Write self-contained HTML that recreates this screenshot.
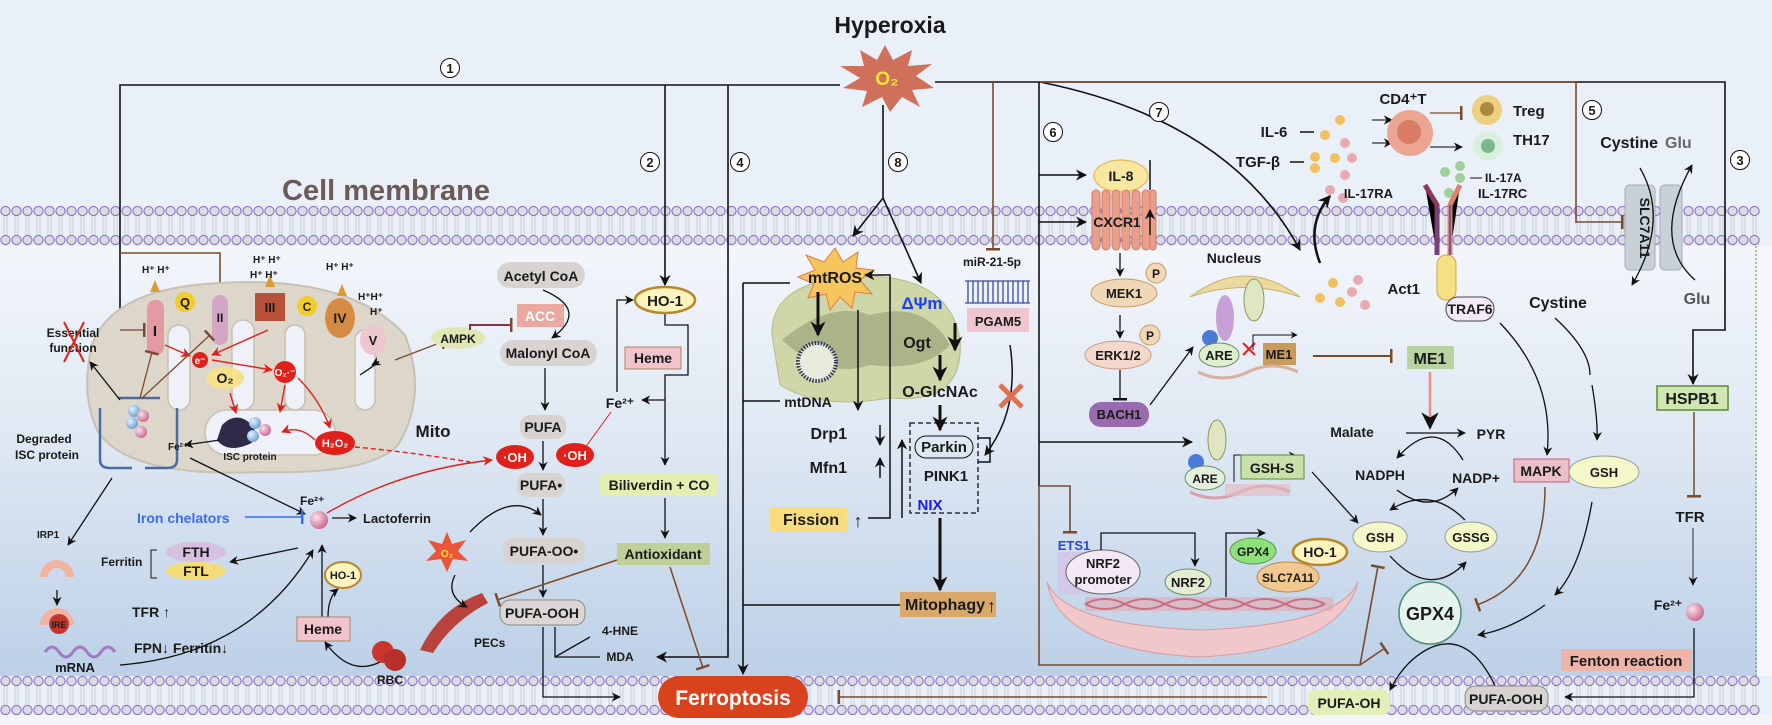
<!DOCTYPE html>
<html><head><meta charset="utf-8"><style>
html,body{margin:0;padding:0;background:#fff}
svg{display:block}
text{font-family:"Liberation Sans",Arial,sans-serif;font-weight:bold;fill:#1a1a1a}
</style></head><body>
<svg width="1772" height="725" viewBox="0 0 1772 725" xmlns="http://www.w3.org/2000/svg">
<defs>
<linearGradient id="bgIn" x1="0" y1="0" x2="0" y2="1"><stop offset="0" stop-color="#f3f6fb"/><stop offset="0.45" stop-color="#dfe8f3"/><stop offset="1" stop-color="#bcd0e7"/></linearGradient>
<pattern id="memT" patternUnits="userSpaceOnUse" width="11" height="41" patternTransform="translate(0,205)">
<line x1="4" y1="10" x2="4" y2="31" stroke="#c9ccd3"/><line x1="7" y1="10" x2="7" y2="31" stroke="#c9ccd3"/>
<circle cx="5.5" cy="6" r="4.6" fill="#dcdce0" stroke="#8b6fd0" stroke-width="1.1"/>
<circle cx="5.5" cy="35" r="4.6" fill="#dcdce0" stroke="#8b6fd0" stroke-width="1.1"/></pattern>
<pattern id="memB" patternUnits="userSpaceOnUse" width="11" height="40" patternTransform="translate(0,675)">
<line x1="4" y1="10" x2="4" y2="30" stroke="#c9ccd3"/><line x1="7" y1="10" x2="7" y2="30" stroke="#c9ccd3"/>
<circle cx="5.5" cy="6" r="4.6" fill="#dcdce0" stroke="#8b6fd0" stroke-width="1.1"/>
<circle cx="5.5" cy="35" r="4.6" fill="#dcdce0" stroke="#8b6fd0" stroke-width="1.1"/></pattern>
<marker id="a" viewBox="0 0 10 10" refX="9" refY="5" markerWidth="7" markerHeight="7" orient="auto"><path d="M0,0 L10,5 L0,10 L3,5z" fill="#111"/></marker>
<marker id="ar" viewBox="0 0 10 10" refX="9" refY="5" markerWidth="7" markerHeight="7" orient="auto"><path d="M0,0 L10,5 L0,10 L3,5z" fill="#e0201a"/></marker>
<marker id="ab" viewBox="0 0 10 10" refX="9" refY="5" markerWidth="5" markerHeight="5" orient="auto"><path d="M0,0 L10,5 L0,10 L3,5z" fill="#111"/></marker>
<marker id="tb" viewBox="0 0 4 14" refX="2" refY="7" markerWidth="4" markerHeight="14" markerUnits="userSpaceOnUse" orient="auto"><rect x="0" y="0" width="2.5" height="14" fill="#7a4a2a"/></marker>
<marker id="tk" viewBox="0 0 4 14" refX="2" refY="7" markerWidth="4" markerHeight="14" markerUnits="userSpaceOnUse" orient="auto"><rect x="0" y="0" width="2.5" height="14" fill="#111"/></marker>
<marker id="tblue" viewBox="0 0 4 14" refX="2" refY="7" markerWidth="4" markerHeight="14" markerUnits="userSpaceOnUse" orient="auto"><rect x="0" y="0" width="2.5" height="14" fill="#3a6cf0"/></marker>
<radialGradient id="ball" cx="0.35" cy="0.35" r="0.7"><stop offset="0" stop-color="#fbe0ee"/><stop offset="1" stop-color="#c9668f"/></radialGradient>
<radialGradient id="bball" cx="0.35" cy="0.35" r="0.7"><stop offset="0" stop-color="#e3f2ff"/><stop offset="1" stop-color="#6a9ed0"/></radialGradient>
</defs>

<rect x="0" y="0" width="1772" height="725" fill="#eaf0f8"/>
<rect x="0" y="246" width="1757" height="430" fill="url(#bgIn)"/>
<rect x="1757" y="246" width="15" height="430" fill="#f4f6f9"/>
<rect x="0" y="715" width="1772" height="10" fill="#f3f5f8"/>
<rect x="0" y="205" width="1760" height="41" fill="url(#memT)"/>
<rect x="0" y="675" width="1760" height="40" fill="url(#memB)"/>
<line x1="1756" y1="246" x2="1756" y2="676" stroke="#6b8e4e" stroke-dasharray="2,2"/>

<text x="890" y="33" font-size="23" text-anchor="middle">Hyperoxia</text>
<text x="386" y="200" font-size="29" style="fill:#6b5a57" text-anchor="middle">Cell membrane</text>

<polygon points="885,45 893,60 912,50 908,66 932,64 916,76 934,88 912,90 920,107 902,97 890,112 882,97 862,107 867,91 843,88 860,78 840,66 864,66 860,50 877,60" fill="#cf705a"/>
<text x="887" y="85" font-size="19" style="fill:#f5e23a" text-anchor="middle">O₂</text>

<g fill="none" stroke="#111" stroke-width="1.6">
<path d="M840,85 H120 V378 H205" marker-end="url(#a)"/>
<path d="M665,85 V285" marker-end="url(#a)"/>
<path d="M728,85 V657 H657" marker-end="url(#a)"/>
<path d="M883,105 V198 L853,236" marker-end="url(#a)"/>
<path d="M883,198 L921,283" marker-end="url(#a)"/>
<path d="M935,82 H1725 V330 H1693 V384" marker-end="url(#a)"/>
<path d="M1039,82 V486"/>
<path d="M1039,175 H1086" marker-end="url(#a)"/>
<path d="M1039,222 H1086" marker-end="url(#a)"/>
<path d="M1039,442 H1192" marker-end="url(#a)"/>
<path d="M1040,82 Q1230,120 1300,250" marker-end="url(#a)"/>
<path d="M743,283 V674" marker-end="url(#a)"/>
<path d="M743,283 H790"/>
<path d="M743,401 H780"/>
<path d="M743,605 H900"/>
</g>
<g fill="none" stroke="#7a4a2a" stroke-width="1.6">
<path d="M993,82 V250" marker-end="url(#tb)"/>
<path d="M1040,82 H1576 V222 H1623" marker-end="url(#tb)"/>
<path d="M120,253 H220 V288" marker-end="url(#tb)"/>
<path d="M1039,486 H1070 V533" marker-end="url(#tb)"/>
<path d="M1039,486 V665 H1360 L1385,648" marker-end="url(#tb)"/>
<path d="M1360,665 L1378,566" marker-end="url(#tb)"/>
<path d="M1267,697 H838" marker-end="url(#tb)"/>
</g>
<g>
<circle cx="450" cy="68" r="9.5" fill="#fff" stroke="#111"/><text x="450" y="73" text-anchor="middle" font-size="13" font-weight="normal">1</text>
<circle cx="650" cy="162" r="9.5" fill="#fff" stroke="#111"/><text x="650" y="167" text-anchor="middle" font-size="13" font-weight="normal">2</text>
<circle cx="740" cy="162" r="9.5" fill="#fff" stroke="#111"/><text x="740" y="167" text-anchor="middle" font-size="13" font-weight="normal">4</text>
<circle cx="898" cy="162" r="9.5" fill="#fff" stroke="#111"/><text x="898" y="167" text-anchor="middle" font-size="13" font-weight="normal">8</text>
<circle cx="1053" cy="132" r="9.5" fill="#fff" stroke="#111"/><text x="1053" y="137" text-anchor="middle" font-size="13" font-weight="normal">6</text>
<circle cx="1159" cy="112" r="9.5" fill="#fff" stroke="#111"/><text x="1159" y="117" text-anchor="middle" font-size="13" font-weight="normal">7</text>
<circle cx="1592" cy="110" r="9.5" fill="#fff" stroke="#111"/><text x="1592" y="115" text-anchor="middle" font-size="13" font-weight="normal">5</text>
<circle cx="1740" cy="160" r="9.5" fill="#fff" stroke="#111"/><text x="1740" y="165" text-anchor="middle" font-size="13" font-weight="normal">3</text>
</g>

<path d="M92,345 Q112,288 220,283 Q350,275 405,335 Q428,395 398,445 Q370,475 260,472 Q130,478 98,432 Q80,395 92,345z" fill="#ddd6cb" stroke="#c8c0b3" stroke-width="2"/>
<g fill="#eef2f8" stroke="#c8c0b3" stroke-width="1.5">
<rect x="168" y="325" width="22" height="85" rx="11"/><rect x="232" y="320" width="22" height="90" rx="11"/>
<rect x="285" y="325" width="20" height="85" rx="10"/><rect x="355" y="330" width="20" height="80" rx="10"/>
<rect x="205" y="410" width="130" height="45" rx="22"/>
</g>
<rect x="147" y="300" width="17" height="55" rx="8" fill="#e39aa2"/><text x="155" y="336" font-size="15" text-anchor="middle">I</text>
<circle cx="185" cy="302" r="10" fill="#f2cc28"/><text x="185" y="307" font-size="13" text-anchor="middle">Q</text>
<rect x="212" y="295" width="16" height="50" rx="8" fill="#d3a6c6"/><text x="220" y="322" font-size="12" text-anchor="middle">II</text>
<path d="M255,293 h30 v28 h-30z" fill="#b8533a"/><text x="270" y="312" font-size="13" text-anchor="middle">III</text>
<circle cx="307" cy="306" r="10" fill="#f2cc28"/><text x="307" y="311" font-size="12" text-anchor="middle">C</text>
<ellipse cx="340" cy="318" rx="15" ry="20" fill="#d68b45"/><text x="340" y="323" font-size="14" text-anchor="middle">IV</text>
<ellipse cx="373" cy="340" rx="13" ry="15" fill="#eec6cf"/><text x="373" y="345" font-size="13" text-anchor="middle">V</text>
<g fill="#e09a35"><path d="M150,292 l5,-12 l5,12z"/><path d="M265,287 l5,-12 l5,12z"/><path d="M337,296 l5,-12 l5,12z"/></g>
<g font-size="10"><text x="142" y="273">H⁺ H⁺</text><text x="253" y="263">H⁺ H⁺</text><text x="250" y="278">H⁺    H⁺</text><text x="326" y="270">H⁺  H⁺</text><text x="358" y="300">H⁺H⁺</text><text x="370" y="315">H⁺</text></g>
<circle cx="200" cy="360" r="8" fill="#e0201a"/><text x="200" y="364" font-size="10" style="fill:#fff" text-anchor="middle">e⁻</text>
<ellipse cx="225" cy="378" rx="19" ry="11" fill="#f5e08c"/><text x="225" y="383" font-size="14" text-anchor="middle">O₂</text>
<circle cx="285" cy="372" r="11" fill="#e0201a"/><text x="285" y="376" font-size="10" style="fill:#fff" text-anchor="middle">O₂·⁻</text>
<ellipse cx="335" cy="443" rx="20" ry="12" fill="#e0201a"/><text x="335" y="447" font-size="11" style="fill:#fff" text-anchor="middle">H₂O₂</text>
<g fill="none" stroke="#e0201a" stroke-width="1.4"><path d="M165,345 L190,356" marker-end="url(#ar)"/><path d="M268,330 L212,355" marker-end="url(#ar)"/><path d="M212,360 L272,370" marker-end="url(#ar)"/><path d="M298,378 Q320,400 330,428" marker-end="url(#ar)"/><path d="M230,393 L236,413" marker-end="url(#ar)"/><path d="M285,385 L280,412" marker-end="url(#ar)"/><path d="M315,440 Q300,425 282,432" marker-end="url(#ar)"/><path d="M355,447 Q410,452 470,462" stroke-dasharray="5,3"/></g>
<path d="M222,425 q15,-15 30,0 q10,15 -5,20 q-20,8 -30,-5z" fill="#2e2a48"/>
<circle cx="255" cy="423" r="6" fill="url(#bball)"/><circle cx="265" cy="430" r="6" fill="url(#ball)"/><circle cx="253" cy="436" r="6" fill="url(#bball)"/>
<text x="250" y="460" font-size="10" font-weight="normal" text-anchor="middle">ISC protein</text>
<text x="433" y="437" font-size="17" text-anchor="middle">Mito</text>
<path d="M118,398 H160 M100,408 v52 q0,8 10,8 h22 M177,408 v52 q0,8 -10,8 h-22" fill="none" stroke="#4a6aa0" stroke-width="2.5"/>
<circle cx="134" cy="411" r="6" fill="url(#bball)"/><circle cx="143" cy="416" r="6" fill="url(#ball)"/><circle cx="132" cy="423" r="6" fill="url(#bball)"/><circle cx="141" cy="432" r="6" fill="url(#ball)"/>
<text x="73" y="337" font-size="12" text-anchor="middle">Essential</text><text x="73" y="352" font-size="12" text-anchor="middle">function</text>
<path d="M64,322 L84,362 M84,322 L64,362" stroke="#e0201a" stroke-width="2"/>
<text x="44" y="443" font-size="12" text-anchor="middle">Degraded</text><text x="47" y="459" font-size="12" text-anchor="middle">ISC protein</text>
<text x="168" y="450" font-size="10">Fe²⁺</text>
<g fill="none" stroke="#111" stroke-width="1.3">
<path d="M120,400 L90,362" marker-end="url(#a)"/>
<path d="M220,440 L185,445" marker-end="url(#a)"/>
<path d="M112,478 L68,545" marker-end="url(#a)"/>
<path d="M190,458 L305,514" marker-end="url(#a)"/>
<path d="M332,518 H356" marker-end="url(#a)"/>
<path d="M298,548 L230,562" marker-end="url(#a)"/>
<path d="M120,665 Q250,655 313,550" marker-end="url(#a)"/>
<path d="M322,617 V545" marker-end="url(#a)"/>
<path d="M328,617 q0,-20 10,-28" marker-end="url(#a)"/>
<path d="M380,662 q-30,15 -55,-20" marker-end="url(#a)"/>
<path d="M57,590 V605" marker-end="url(#a)"/>
<path d="M360,375 Q390,355 372,365" marker-end="url(#a)"/>
</g>
<g fill="none" stroke="#7a4a2a" stroke-width="1.3"><path d="M120,330 H145" marker-end="url(#tb)"/><path d="M140,398 L152,352" marker-end="url(#tb)"/><path d="M142,398 L210,335" marker-end="url(#tb)"/><path d="M395,360 L442,342" marker-end="url(#tb)"/></g>
<text x="37" y="538" font-size="10">IRP1</text>
<path d="M40,577 a17,17 0 0 1 34,0 h-8 a9,9 0 0 0 -18,0z" fill="#f2b3a3"/>
<path d="M40,625 a17,17 0 0 1 34,0 h-8 a9,9 0 0 0 -18,0z" fill="#f2b3a3"/>
<circle cx="59" cy="624" r="10" fill="#c0392b"/><text x="59" y="628" font-size="9" text-anchor="middle">IRE</text>
<path d="M45,652 q7,-10 14,0 t14,0 t14,0 t14,0 t14,0" fill="none" stroke="#a07ac0" stroke-width="3"/>
<text x="75" y="672" font-size="13" text-anchor="middle">mRNA</text>
<text x="101" y="566" font-size="12">Ferritin</text>
<path d="M157,550 h-6 v28 h6" fill="none" stroke="#111"/>
<ellipse cx="196" cy="552" rx="30" ry="10" fill="#d7bfe0"/><text x="196" y="557" font-size="14" font-weight="normal" text-anchor="middle">FTH</text>
<ellipse cx="196" cy="571" rx="30" ry="9" fill="#f4dd78"/><text x="196" y="576" font-size="14" font-weight="normal" text-anchor="middle">FTL</text>
<text x="132" y="617" font-size="14">TFR ↑</text>
<text x="134" y="653" font-size="14">FPN↓  Ferritin↓</text>
<text x="137" y="523" font-size="14" style="fill:#3a6cf0">Iron  chelators</text>
<path d="M245,517 H303" stroke="#3a6cf0" stroke-width="1.5" marker-end="url(#tblue)"/>
<text x="300" y="505" font-size="12">Fe²⁺</text>
<circle cx="319" cy="520" r="9" fill="url(#ball)"/>
<text x="363" y="523" font-size="13" font-weight="normal">Lactoferrin</text>
<path d="M327,513 Q400,470 492,460" fill="none" stroke="#e0201a" stroke-width="1.4" marker-end="url(#ar)"/>
<ellipse cx="343" cy="575" rx="18" ry="13" fill="#fff3c0" stroke="#b8862b" stroke-width="2"/><text x="343" y="579" font-size="11" font-weight="normal" text-anchor="middle">HO-1</text>
<rect x="297" y="617" width="53" height="24" fill="#f2c3cd" stroke="#a85"/><text x="323" y="634" font-size="14" text-anchor="middle">Heme</text>
<circle cx="383" cy="652" r="11" fill="#c9362d"/><circle cx="395" cy="660" r="11" fill="#b8302a"/>
<text x="390" y="684" font-size="12" text-anchor="middle">RBC</text>
<path d="M420,650 q20,-42 62,-57 l6,10 q-35,18 -55,50z" fill="#b8423c"/>
<text x="474" y="647" font-size="12">PECs</text>
<polygon points="447,532 452,544 466,540 458,551 468,561 453,559 447,572 441,559 426,561 436,551 428,540 442,544" fill="#e9563a"/><text x="447" y="557" font-size="10" style="fill:#f5e23a" text-anchor="middle">O₂</text>

<g font-size="14" font-weight="normal" text-anchor="middle">
<rect x="497" y="262" width="88" height="26" rx="13" fill="#d6d3d0"/><text x="541" y="281">Acetyl CoA</text>
<rect x="517" y="304" width="47" height="23" fill="#eaa8a0"/><text x="540" y="321" style="fill:#fff" font-weight="bold">ACC</text>
<ellipse cx="458" cy="338" rx="27" ry="11" fill="#dfe8b4"/><text x="458" y="343" font-size="12" font-weight="bold">AMPK</text>
<rect x="500" y="340" width="97" height="26" rx="13" fill="#d6d3d0"/><text x="548" y="358">Malonyl CoA</text>
<rect x="520" y="415" width="46" height="24" rx="10" fill="#d6d3d0"/><text x="543" y="432">PUFA</text>
<rect x="517" y="473" width="48" height="24" rx="10" fill="#d6d3d0"/><text x="541" y="490">PUFA•</text>
<rect x="503" y="538" width="82" height="25" rx="10" fill="#d6d3d0"/><text x="544" y="556">PUFA-OO•</text>
<rect x="500" y="600" width="85" height="25" rx="10" fill="#d9d6d3" stroke="#888"/><text x="542" y="618" font-weight="bold">PUFA-OOH</text>
<text x="620" y="635" font-size="12" font-weight="bold">4-HNE</text><text x="620" y="661" font-size="12" font-weight="bold">MDA</text>
</g>
<ellipse cx="515" cy="457" rx="19" ry="12" fill="#e0201a"/><text x="515" y="462" font-size="13" style="fill:#fff" text-anchor="middle">·OH</text>
<ellipse cx="575" cy="455" rx="19" ry="12" fill="#e0201a"/><text x="575" y="460" font-size="13" style="fill:#fff" text-anchor="middle">·OH</text>
<g fill="none" stroke="#111" stroke-width="1.3">
<path d="M543,290 Q590,310 552,338" marker-end="url(#a)"/>
<path d="M545,368 V410" marker-end="url(#a)"/>
<path d="M543,441 V470" marker-end="url(#a)"/>
<path d="M543,499 V535" marker-end="url(#a)"/>
<path d="M543,565 V597" marker-end="url(#a)"/>
<path d="M470,532 Q510,490 541,515" marker-end="url(#a)"/>
<path d="M455,575 q-10,20 12,32" marker-end="url(#a)"/>
<path d="M543,627 V697 H620" marker-end="url(#a)"/>
<path d="M555,627 V657 H600 M555,657 L590,637"/>
<path d="M665,313 V325 H688 V375 H665 V465" marker-end="url(#a)"/>
<path d="M665,400 H642" marker-end="url(#a)"/>
<path d="M617,392 V300 H633" marker-end="url(#a)"/>
<path d="M665,498 V538" marker-end="url(#a)"/>
</g>
<path d="M470,330 V325 H512" stroke="#8a3040" stroke-width="2" fill="none" marker-end="url(#tb)"/>
<path d="M611,412 L582,452" stroke="#e0201a" fill="none" marker-end="url(#ar)"/>
<ellipse cx="665" cy="300" rx="30" ry="13" fill="#fff3c0" stroke="#b8862b" stroke-width="2.5"/><text x="665" y="306" font-size="15" text-anchor="middle">HO-1</text>
<rect x="625" y="347" width="56" height="22" fill="#f2c3cd" stroke="#a85"/><text x="653" y="363" font-size="14" font-weight="normal" text-anchor="middle">Heme</text>
<text x="620" y="408" font-size="14" text-anchor="middle">Fe²⁺</text>
<rect x="600" y="474" width="118" height="22" rx="4" fill="#e3efb0"/><text x="659" y="490" font-size="14" text-anchor="middle">Biliverdin + CO</text>
<rect x="617" y="543" width="93" height="22" fill="#bfcf9a"/><text x="663" y="559" font-size="14" font-weight="normal" text-anchor="middle">Antioxidant</text>
<path d="M670,567 L703,668" stroke="#7a4a2a" fill="none" stroke-width="1.5" marker-end="url(#tb)"/>
<path d="M617,560 L497,600" stroke="#7a4a2a" fill="none" stroke-width="1.5" marker-end="url(#tb)"/>

<rect x="658" y="676" width="150" height="42" rx="21" fill="#d8421c"/>
<text x="733" y="705" font-size="21" style="fill:#fff" text-anchor="middle">Ferroptosis</text>

<path d="M772,335 Q770,280 860,276 Q950,275 960,340 Q965,405 890,398 Q820,410 780,385z" fill="#cfd6a7" stroke="#b5bd8a"/>
<path d="M782,340 Q830,300 870,315 Q925,300 950,345 Q925,372 870,365 Q825,380 782,340z" fill="#9aa57a" opacity="0.7"/>
<circle cx="817" cy="362" r="19" fill="#e8ecdc" stroke="#2f355a" stroke-width="4" stroke-dasharray="1.5,1.5"/>
<polygon points="835,248 843,262 858,252 856,268 874,270 860,280 872,294 855,292 852,308 840,297 830,310 826,294 808,298 814,284 798,277 815,270 806,255 824,262" fill="#f6c55c" stroke="#e07a4a"/>
<text x="835" y="283" font-size="16" text-anchor="middle">mtROS</text>
<text x="808" y="407" font-size="14" text-anchor="middle">mtDNA</text>
<g fill="none" stroke="#111" stroke-width="1.5">
<path d="M818,292 V335" stroke-width="3" marker-end="url(#ab)"/>
<path d="M858,310 V410" marker-end="url(#a)"/>
<path d="M880,425 V445" marker-end="url(#a)"/>
<path d="M880,478 V458" marker-end="url(#a)"/>
<path d="M868,518 H890 V275 H865" marker-end="url(#a)"/>
<path d="M955,323 V350" stroke-width="3" marker-end="url(#ab)"/>
<path d="M940,355 V380" stroke-width="3" marker-end="url(#ab)"/>
<path d="M940,405 V430" stroke-width="3" marker-end="url(#ab)"/>
<path d="M1010,345 Q1020,410 985,455" marker-end="url(#a)"/>
<path d="M978,438 H990 V462 H978"/>
<path d="M902,518 V440" marker-end="url(#a)"/>
<path d="M940,518 V590" stroke-width="3" marker-end="url(#ab)"/>
</g>
<text x="847" y="439" font-size="16" text-anchor="end">Drp1</text>
<text x="847" y="473" font-size="16" text-anchor="end">Mfn1</text>
<rect x="770" y="507" width="77" height="25" fill="#f7dd7e"/><text x="783" y="525" font-size="16">Fission</text><text x="858" y="527" font-size="18" text-anchor="middle">↑</text>
<text x="922" y="309" font-size="17" style="fill:#1a3ef0" text-anchor="middle">ΔΨm</text>
<text x="917" y="348" font-size="16" text-anchor="middle">Ogt</text>
<text x="940" y="397" font-size="16" text-anchor="middle">O-GlcNAc</text>
<path d="M1000,385 l22,22 M1022,385 l-22,22" stroke="#e07050" stroke-width="5"/>
<rect x="910" y="423" width="68" height="90" fill="none" stroke="#111" stroke-dasharray="5,3" stroke-width="1.3"/>
<rect x="915" y="436" width="58" height="22" rx="11" fill="none" stroke="#111"/><text x="944" y="452" font-size="15" font-weight="normal" text-anchor="middle">Parkin</text>
<text x="946" y="481" font-size="15" text-anchor="middle">PINK1</text>
<text x="930" y="510" font-size="15" style="fill:#1a1af0" text-anchor="middle">NIX</text>
<rect x="900" y="592" width="96" height="25" fill="#d9a76a"/><text x="945" y="610" font-size="16" text-anchor="middle">Mitophagy</text><text x="987" y="612" font-size="18">↑</text>
<text x="992" y="266" font-size="12" text-anchor="middle">miR-21-5p</text>
<g stroke="#3a4aa0" stroke-width="1.3"><line x1="965" y1="281" x2="1030" y2="281"/><line x1="965" y1="303" x2="1030" y2="303"/><path d="M968,281 v22 M973,281 v22 M978,281 v22 M983,281 v22 M988,281 v22 M993,281 v22 M998,281 v22 M1003,281 v22 M1008,281 v22 M1013,281 v22 M1018,281 v22 M1023,281 v22 M1028,281 v22"/></g>
<rect x="967" y="308" width="62" height="24" fill="#efc6cf"/><text x="998" y="326" font-size="13" text-anchor="middle">PGAM5</text>

<ellipse cx="1121" cy="176" rx="27" ry="16" fill="#f7e7a0" stroke="#e0b040"/><text x="1121" y="181" font-size="14" text-anchor="middle">IL-8</text>
<g fill="#e8a08a" stroke="#d47b66"><rect x="1092" y="190" width="8" height="60" rx="4"/><rect x="1102" y="190" width="8" height="60" rx="4"/><rect x="1112" y="190" width="8" height="60" rx="4"/><rect x="1122" y="190" width="8" height="60" rx="4"/><rect x="1132" y="190" width="8" height="60" rx="4"/><rect x="1142" y="190" width="8" height="60" rx="4"/><rect x="1150" y="190" width="6" height="60" rx="3"/></g>
<text x="1117" y="227" font-size="14" text-anchor="middle">CXCR1</text>
<path d="M1150,190 V160 M1150,235 V210" stroke="#111" stroke-width="1.5" marker-end="url(#a)"/>
<ellipse cx="1124" cy="293" rx="33" ry="14" fill="#efd7b8" stroke="#c89a60"/><text x="1124" y="298" font-size="13" text-anchor="middle">MEK1</text>
<circle cx="1156" cy="273" r="10" fill="#efd7b8" stroke="#c89a60"/><text x="1156" y="278" font-size="12" text-anchor="middle">P</text>
<ellipse cx="1118" cy="355" rx="33" ry="14" fill="#f4d8cc" stroke="#c89a80"/><text x="1118" y="360" font-size="13" text-anchor="middle">ERK1/2</text>
<circle cx="1150" cy="335" r="10" fill="#efd7b8" stroke="#c89a60"/><text x="1150" y="340" font-size="12" text-anchor="middle">P</text>
<rect x="1089" y="402" width="60" height="25" rx="12" fill="#9a6ab0"/><text x="1119" y="419" font-size="13" text-anchor="middle">BACH1</text>
<g fill="none" stroke="#111" stroke-width="1.3"><path d="M1120,253 V276" marker-end="url(#a)"/><path d="M1120,315 V338" marker-end="url(#a)"/><path d="M1120,370 V400" marker-end="url(#tk)"/><path d="M1150,405 L1193,347" marker-end="url(#a)"/></g>
<text x="1234" y="263" font-size="14" text-anchor="middle">Nucleus</text>
<path d="M1190,297 Q1245,255 1300,297 Q1245,278 1190,297z" fill="#ecd9a0" stroke="#c8b070"/>
<ellipse cx="1225" cy="318" rx="9" ry="23" fill="#c7a0d8"/><ellipse cx="1254" cy="300" rx="10" ry="21" fill="#dfe6c0" stroke="#8a9a60"/>
<circle cx="1210" cy="338" r="8" fill="#4a7ad8"/>
<ellipse cx="1219" cy="355" rx="20" ry="12" fill="#dfeecf" stroke="#6a8a6a"/><text x="1219" y="360" font-size="13" text-anchor="middle">ARE</text>
<rect x="1263" y="343" width="33" height="22" fill="#c99a5a"/><text x="1279" y="359" font-size="13" text-anchor="middle">ME1</text>
<path d="M1243,343 l12,12 M1255,343 l-12,12" stroke="#e0201a" stroke-width="2"/>
<path d="M1253,350 V335 H1297" fill="none" stroke="#111" marker-end="url(#a)"/>
<path d="M1198,372 q25,12 50,0 t50,0" fill="none" stroke="#d9b0a0" stroke-width="3"/>
<path d="M1313,356 H1392" stroke="#7a4a2a" stroke-width="2" fill="none" marker-end="url(#tb)"/>

<text x="1274" y="137" font-size="15" text-anchor="middle">IL-6</text><line x1="1300" y1="132" x2="1314" y2="132" stroke="#111" stroke-width="1.5"/>
<text x="1258" y="167" font-size="15" text-anchor="middle">TGF-β</text><line x1="1290" y1="162" x2="1304" y2="162" stroke="#111" stroke-width="1.5"/>
<g fill="#f3c060"><circle cx="1340" cy="120" r="5"/><circle cx="1325" cy="135" r="5"/><circle cx="1315" cy="157" r="5"/><circle cx="1315" cy="168" r="5"/><circle cx="1335" cy="158" r="5"/><circle cx="1333" cy="283" r="5"/><circle cx="1320" cy="298" r="5"/><circle cx="1340" cy="302" r="5"/></g>
<g fill="#e8aab0"><circle cx="1345" cy="143" r="5"/><circle cx="1352" cy="158" r="5"/><circle cx="1345" cy="175" r="5"/><circle cx="1330" cy="190" r="5"/><circle cx="1343" cy="198" r="5"/><circle cx="1358" cy="280" r="5"/><circle cx="1352" cy="292" r="5"/><circle cx="1365" cy="305" r="5"/></g>
<path d="M1320,263 Q1305,225 1330,196" fill="none" stroke="#111" stroke-width="2.5" marker-end="url(#ab)"/>
<g fill="none" stroke="#333" stroke-width="1.3"><path d="M1372,120 H1392" marker-end="url(#a)"/><path d="M1372,143 H1392" marker-end="url(#a)"/><path d="M1430,147 H1462" marker-end="url(#a)"/><path d="M1430,113 H1462" stroke="#7a4a2a" marker-end="url(#tb)"/></g>
<text x="1403" y="104" font-size="15" text-anchor="middle">CD4⁺T</text>
<circle cx="1410" cy="133" r="23" fill="#eba590"/><circle cx="1409" cy="132" r="12" fill="#d97c68"/>
<circle cx="1487" cy="110" r="15" fill="#ecd080"/><circle cx="1487" cy="109" r="7" fill="#a88a40"/>
<text x="1513" y="116" font-size="15">Treg</text>
<circle cx="1488" cy="146" r="15" fill="#d8f0dc"/><circle cx="1488" cy="146" r="7" fill="#7ab890"/>
<text x="1513" y="145" font-size="15">TH17</text>
<g fill="#9fd09c"><circle cx="1445" cy="172" r="5"/><circle cx="1460" cy="166" r="5"/><circle cx="1460" cy="178" r="5"/><circle cx="1449" cy="193" r="5"/></g>
<line x1="1470" y1="178" x2="1482" y2="178" stroke="#111"/>
<text x="1485" y="182" font-size="12">IL-17A</text>
<text x="1478" y="198" font-size="13">IL-17RC</text>
<text x="1393" y="198" font-size="13" text-anchor="end">IL-17RA</text>
<g stroke-width="5"><path d="M1425,185 L1437,205 V255" stroke="#8a3a5a"/><path d="M1460,185 L1450,205 V255" stroke="#e0806a"/></g>
<line x1="1437" y1="205" x2="1437" y2="255" stroke="#5a4aa0" stroke-width="1.5"/><line x1="1450" y1="205" x2="1450" y2="255" stroke="#5a4aa0" stroke-width="1.5"/>
<rect x="1437" y="255" width="19" height="45" rx="9" fill="#f5e085" stroke="#c8a840"/>
<text x="1420" y="294" font-size="15" text-anchor="end">Act1</text>
<rect x="1446" y="297" width="48" height="24" rx="12" fill="#f3eaf8" stroke="#444"/><text x="1470" y="314" font-size="14" font-weight="normal" text-anchor="middle">TRAF6</text>

<text x="1658" y="148" font-size="16" text-anchor="end">Cystine</text><text x="1665" y="148" font-size="16" style="fill:#666">Glu</text>
<rect x="1625" y="185" width="30" height="85" rx="5" fill="#c8d0d8" stroke="#aab"/>
<rect x="1660" y="185" width="22" height="85" rx="5" fill="#c8d0d8" stroke="#aab"/>
<text x="0" y="0" font-size="14" text-anchor="middle" transform="translate(1640,228) rotate(90)">SLC7A11</text>
<g fill="none" stroke="#111" stroke-width="1.3"><path d="M1640,168 Q1670,220 1632,285" marker-end="url(#a)"/><path d="M1695,280 Q1650,240 1692,165" marker-end="url(#a)"/></g>
<text x="1558" y="308" font-size="16" text-anchor="middle">Cystine</text>
<text x="1697" y="304" font-size="16" style="fill:#555" text-anchor="middle">Glu</text>

<rect x="1407" y="346" width="47" height="23" fill="#b7d3a0"/><text x="1430" y="364" font-size="16" text-anchor="middle">ME1</text>
<path d="M1430,372 V428" stroke="#e89080" stroke-width="2.5" fill="none" marker-end="url(#a)"/>
<text x="1352" y="437" font-size="14" text-anchor="middle">Malate</text>
<text x="1491" y="439" font-size="14" text-anchor="middle">PYR</text>
<text x="1380" y="480" font-size="14" text-anchor="middle">NADPH</text>
<text x="1476" y="483" font-size="14" text-anchor="middle">NADP+</text>
<ellipse cx="1380" cy="537" rx="27" ry="15" fill="#f4f8c8" stroke="#999"/><text x="1380" y="542" font-size="13" text-anchor="middle">GSH</text>
<ellipse cx="1471" cy="537" rx="26" ry="15" fill="#f4f8c8" stroke="#999"/><text x="1471" y="542" font-size="13" text-anchor="middle">GSSG</text>
<circle cx="1430" cy="613" r="31" fill="#e4f4ec" stroke="#4a8a70" stroke-width="1.5"/><text x="1430" y="620" font-size="18" text-anchor="middle">GPX4</text>
<g fill="none" stroke="#111" stroke-width="1.3">
<path d="M1406,433 H1465" marker-end="url(#a)"/>
<path d="M1463,460 Q1435,415 1397,458" marker-end="url(#a)"/>
<path d="M1397,490 Q1430,515 1458,488" marker-end="url(#a)"/>
<path d="M1465,520 Q1430,485 1390,510" marker-end="url(#a)"/>
<path d="M1390,556 Q1430,600 1466,562" marker-end="url(#a)"/>
<path d="M1312,472 L1358,523" marker-end="url(#a)"/>
<path d="M1497,690 Q1470,630 1430,648 Q1405,660 1390,690" marker-end="url(#a)"/>
<path d="M1500,323 Q1555,380 1547,455" marker-end="url(#a)"/>
<path d="M1555,318 Q1590,350 1590,375 M1592,385 Q1598,420 1597,440" marker-end="url(#a)"/>
<path d="M1592,502 Q1580,570 1555,595" marker-end="url(#a)"/>
<path d="M1545,605 Q1510,630 1478,635" marker-end="url(#a)"/>
<path d="M1694,628 V697 H1565" marker-end="url(#a)"/>
<path d="M1693,528 V585" stroke="#555" marker-end="url(#a)"/>
</g>
<path d="M1545,487 Q1545,580 1477,605" stroke="#7a4a2a" stroke-width="1.5" fill="none" marker-end="url(#tb)"/>
<path d="M1694,412 V497" stroke="#7a4a2a" stroke-width="1.5" fill="none" marker-end="url(#tb)"/>
<rect x="1514" y="459" width="55" height="23" fill="#ecc0c8" stroke="#c06078"/><text x="1541" y="476" font-size="14" text-anchor="middle">MAPK</text>
<ellipse cx="1604" cy="472" rx="35" ry="16" fill="#f4f8c8" stroke="#999"/><text x="1604" y="477" font-size="13" text-anchor="middle">GSH</text>
<rect x="1657" y="386" width="71" height="24" fill="#cfe6b0" stroke="#5a8a3a" stroke-width="1.5"/><text x="1692" y="404" font-size="16" text-anchor="middle">HSPB1</text>
<text x="1690" y="522" font-size="15" text-anchor="middle">TFR</text>
<text x="1668" y="610" font-size="14" text-anchor="middle">Fe²⁺</text>
<circle cx="1695" cy="612" r="9" fill="url(#ball)"/>
<rect x="1561" y="649" width="131" height="22" fill="#eeb4a8"/><text x="1626" y="666" font-size="15" font-weight="normal" text-anchor="middle">Fenton reaction</text>
<rect x="1465" y="686" width="83" height="25" rx="10" fill="#d6d3d0" stroke="#888"/><text x="1506" y="704" font-size="14" text-anchor="middle">PUFA-OOH</text>
<rect x="1308" y="690" width="82" height="25" rx="8" fill="#e3efb8"/><text x="1349" y="708" font-size="14" text-anchor="middle">PUFA-OH</text>

<ellipse cx="1217" cy="440" rx="9" ry="20" fill="#dfe6c0" stroke="#8a9a60"/>
<circle cx="1196" cy="462" r="8" fill="#4a7ad8"/>
<ellipse cx="1205" cy="478" rx="20" ry="12" fill="#e3f0dc" stroke="#6a8a6a"/><text x="1205" y="483" font-size="12" text-anchor="middle">ARE</text>
<path d="M1190,492 q25,12 50,0 t50,0" fill="none" stroke="#d9a0a8" stroke-width="3"/>
<rect x="1225" y="484" width="65" height="12" fill="#e8b7be" opacity="0.6"/>
<path d="M1234,482 V455 H1295" fill="none" stroke="#111" marker-end="url(#a)"/>
<rect x="1241" y="455" width="63" height="24" fill="#c9e0a8" stroke="#5a8a3a"/><text x="1272" y="473" font-size="14" text-anchor="middle">GSH-S</text>

<path d="M1047,582 Q1060,650 1200,657 Q1340,650 1358,582 Q1340,625 1200,630 Q1065,625 1047,582z" fill="#f0c8cc" stroke="#d89aa0"/>
<rect x="1057" y="552" width="33" height="42" fill="#d4c3e6" opacity="0.8"/>
<text x="1074" y="550" font-size="13" style="fill:#2a4ad8" text-anchor="middle">ETS1</text>
<rect x="1085" y="597" width="248" height="14" fill="#e8a0a8" opacity="0.5"/>
<path d="M1085,604 q20,-10 40,0 t40,0 t40,0 t40,0 t40,0 t40,0" fill="none" stroke="#c87080" stroke-width="2"/>
<path d="M1085,604 q20,10 40,0 t40,0 t40,0 t40,0 t40,0 t40,0" fill="none" stroke="#c87080" stroke-width="2"/>
<ellipse cx="1103" cy="572" rx="37" ry="22" fill="#f3e8f5" stroke="#666"/><text x="1103" y="568" font-size="13" font-weight="normal" text-anchor="middle">NRF2</text><text x="1103" y="584" font-size="13" font-weight="normal" text-anchor="middle">promoter</text>
<ellipse cx="1188" cy="582" rx="23" ry="13" fill="#e3ecd0" stroke="#6a8a6a"/><text x="1188" y="587" font-size="13" text-anchor="middle">NRF2</text>
<ellipse cx="1253" cy="551" rx="23" ry="13" fill="#8ee07a" stroke="#5a9a4a"/><text x="1253" y="556" font-size="12" text-anchor="middle">GPX4</text>
<ellipse cx="1288" cy="577" rx="31" ry="15" fill="#f0c890" stroke="#b88a50"/><text x="1288" y="582" font-size="12" text-anchor="middle">SLC7A11</text>
<ellipse cx="1320" cy="552" rx="27" ry="13" fill="#fff3c0" stroke="#b8862b" stroke-width="2.5"/><text x="1320" y="557" font-size="14" text-anchor="middle">HO-1</text>
<g fill="none" stroke="#111" stroke-width="1.3"><path d="M1101,550 V533 H1195 V566" marker-end="url(#a)"/><path d="M1226,597 V533 H1265" marker-end="url(#a)"/></g>
</svg>
</body></html>
